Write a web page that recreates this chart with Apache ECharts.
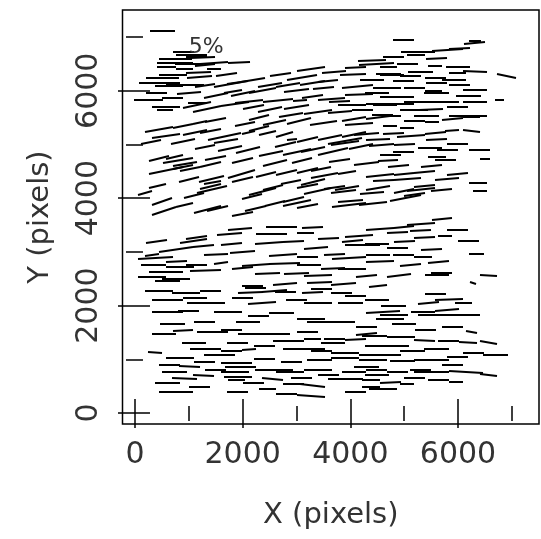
<!DOCTYPE html>
<html><head><meta charset="utf-8">
<script src="https://cdn.jsdelivr.net/npm/echarts@6/dist/echarts.min.js"></script>
<style>html,body{margin:0;padding:0;background:#fff}#c{width:541px;height:539px}</style>
</head><body><div id="c"></div>
<script>
// Polarization vectors: centre X, centre Y (pixels), polarization p (%), angle (deg from X axis)
const xs = [
4997,6312,6325,892,1053,1149,5254,5799,6024,5222,745,1470,1931,4484,5062,4099,4709,5575,6312,6902,
584,924,3266,520,1181,1470,4048,4709,4773,5126,5575,5992,540,892,3105,3586,4997,5928,636,1085,
2368,2849,3298,1726,4131,4677,5190,5543,6312,6024,251,700,1502,1822,2111,2656,3073,3650,4164,4869,
5286,5799,6312,6774,1162,572,553,1149,1341,1855,4036,4548,4644,4997,5415,3394,3811,4228,5190,5415,
6184,443,892,1213,2047,2592,3041,4067,4516,4837,5190,5511,5895,6248,4164,4741,5062,572,1117,1662,
2111,1694,2464,2785,3201,3618,4067,4516,5126,5575,5895,6248,3907,3907,2913,443,732,796,924,1758,
3682,4196,4580,4997,5479,5607,5767,6408,6505,2528,3009,4741,572,892,1021,1406,1419,1438,1983,2432,
2817,3201,3458,3522,3939,4548,4997,5383,4612,5062,5799,6376,187,411,507,1438,1406,2175,2368,2560,
2945,3394,3201,3875,3939,4516,4997,5318,5383,6408,540,924,1341,1534,2240,3009,3971,4420,5029,5190,
5703,5318,1951,2720,4548,4997,1149,1085,1758,2528,3169,4164,4869,5383,5767,4036,315,764,1277,2496,
2945,3362,4228,4869,4997,5350,6344,379,764,1598,2752,3201,3971,4516,347,828,1149,572,1309,2240,
2785,3234,3682,4036,4548,5126,5639,764,2464,3394,4901,5607,6569,315,2175,2240,2785,3426,3875,4516,
443,956,1406,604,1117,2143,2592,3458,3843,4099,6280,5831,5575,1502,2368,3394,4003,604,3266,3458,
4612,4805,5350,5799,4741,5511,6088,2720,1726,5447,540,892,1438,2143,2624,3682,4099,4292,3714,4452,
4933,5383,5831,6184,6248,6569,2849,3298,379,1309,1790,2111,1566,3009,3458,3907,4356,4741,5158,6280,
6697,828,3426,3907,4420,4965,5511,636,1021,1887,1951,732,1277,1855,1919,1887,2432,2881,3394,4067,
4484,4869,5511,6152,6569,924,2560,2945,3907,4388,4741,5062,5639,5960,3298,764,2464,2817,3266,4388,
4612,800,1300,700,1200,1700,2200,2700,3700,2000,2500,3000,3500,2300,1500,900,1300,2100,2000,2600,
3100,3300,2600,1000,4300,4900,5500,6000,6200,5600,4400,4300,4800,4000,2000,2000,3600,4500,5000,6000,
5700,2000,3000,4500,6100,1000,2300,3900,1800,3200,5400,2400,4500,6000,2400,2900,1500,3600,5200,1200,
4100,1900,
300,1000,600,1250,400,1000,1300,2500,3000,3500,2200,2900,3300,1900,3800,4400,4800,5600,6000,5300,
4500,5600,6000,5500,4600,300,1400,2300,2800,3300,1500,3800,2900,3700,2000,1100,3200,5000,5600,6000,
4700,5800,4400,5700,400,1500,2000,3000,3700,1800,3300,600,5500,4300,6200,5300,1200,2800,3300,4800,
700,1300,2100,4300,5000,5900,1100,1900,3300,4900,5600,1300,2700,3100,4300,5900,600,2200,4500,5300
];
const ys = [
6946,6882,6926,6722,6670,6626,6722,6760,6786,6658,6517,6517,6529,6497,6497,6433,6433,6465,6357,6273,
6433,6401,6401,6241,6337,6401,6305,6305,6285,6273,6241,6337,6145,6113,6241,6177,6177,6209,6081,6113,
6004,6113,6145,6113,6081,6049,6049,6004,6017,6113,5825,5857,5908,5979,5793,5825,5825,5850,5921,5889,
5787,5787,5793,5825,5780,5697,5633,5729,5665,5761,5729,5761,5729,5761,5793,5601,5601,5633,5633,5537,
5537,5281,5345,5409,5377,5409,5441,5473,5505,5537,5441,5409,5473,5505,5377,5345,5313,5153,5217,5146,
5217,5057,5217,5185,5089,5121,5185,5089,5153,5217,5262,5249,5057,5025,5089,4737,4769,4705,4641,4929,
4865,4961,4993,4865,4929,4769,4705,4897,4724,4833,4865,4801,4513,4577,4545,4621,4353,4289,4448,4448,
4481,4513,4545,4417,4481,4417,4448,4481,4321,4353,4353,4289,4096,4224,3936,4160,4224,4032,4128,4192,
3968,4128,4224,4128,4192,4192,4128,4160,4224,4128,3763,3872,3795,3808,3808,3904,3872,3904,4000,4064,
3616,3520,3424,3456,3424,3456,3264,3200,3328,3328,3360,3296,3360,3264,3296,3200,2944,3040,3104,3168,
3200,3072,3136,3072,2944,2912,2963,2880,2816,2784,2944,2912,2880,2944,2752,2720,2752,2624,2656,2752,
2784,2752,2688,2688,2816,2752,2816,2496,2592,2560,2560,2560,2560,2528,2368,2336,2400,2432,2400,2368,
2272,2240,2272,2112,2144,2240,2272,2304,2240,2176,2419,2112,2208,2048,2048,2048,2048,1887,1759,1695,
1887,1823,1887,1919,1759,1823,1823,1855,1887,2048,1471,1535,1503,1471,1471,1311,1375,1471,1375,1439,
1407,1343,1343,1311,1503,1311,1343,1375,1119,1183,1151,1183,1087,1183,1151,1119,1087,1087,1151,1119,
1087,1023,991,1023,991,959,991,895,863,927,863,767,703,767,671,607,799,767,799,767,
799,767,767,767,703,639,639,543,639,607,575,543,607,575,511,383,447,351,318,479,
447,6600,6480,6300,6250,6300,6200,6300,6350,5950,5650,5700,5400,5500,5450,5050,4950,4900,4700,4650,
4700,4300,3900,4350,4650,4600,4600,5000,5900,6150,6200,5200,5200,3950,3700,3000,3250,3150,3200,3400,
2600,2150,2100,2100,2050,1900,1800,1700,1550,1500,1550,1250,1250,1050,1000,950,800,700,650,480,
400,400,
6150,6500,6600,6620,5950,5950,6100,6100,6000,6050,5700,5550,5900,6150,5800,6560,6620,6600,6450,6350,
5950,5950,5700,5650,5550,5050,5250,5300,5000,4900,4750,4700,4300,4200,4350,4050,3850,5000,5100,4450,
4700,4900,4100,4150,3200,2950,2700,2600,2950,3150,3450,2450,3050,2550,3200,3400,2050,2250,2250,2000,
1650,1700,1700,1600,1650,1600,1300,1300,1200,1250,1200,950,800,650,850,900,560,550,700,800
];
const ps = [
4.2,4.2,2.4,4.2,6.2,4.2,6.9,6.2,4.2,3.5,7.3,5.6,4.5,6.9,4.2,4.2,3.5,2.8,4.9,4.0,
3.8,3.5,5.6,6.6,4.9,2.8,5.2,4.9,4.9,4.2,4.2,3.5,6.2,6.9,6.2,4.2,4.2,4.9,5.6,4.2,
5.6,4.9,4.9,5.6,6.2,5.6,4.2,3.5,4.9,4.2,5.6,4.2,4.9,3.5,5.6,6.2,2.8,5.6,5.6,6.9,
6.2,4.9,4.9,1.8,3.8,5.6,3.1,5.6,5.6,5.6,5.6,5.6,4.9,4.2,4.9,5.6,4.9,4.2,5.6,4.9,
7.6,5.6,4.2,2.8,4.2,4.9,4.9,4.9,4.9,2.1,4.2,2.8,4.2,3.5,5.6,2.8,2.8,5.6,4.9,6.9,
2.8,4.9,3.5,3.5,4.2,4.9,4.9,4.9,5.6,4.2,2.8,3.5,6.9,5.6,2.1,4.2,3.5,6.2,4.9,4.9,
6.2,4.9,4.9,4.2,4.9,3.5,4.2,4.2,2.1,4.9,5.6,4.2,6.9,4.2,4.2,4.2,5.2,3.5,5.6,4.2,
4.2,4.2,4.2,5.6,3.5,5.6,4.2,4.2,4.2,5.6,4.9,3.5,2.8,3.5,4.2,6.2,4.2,4.2,5.6,4.2,
4.2,5.6,4.2,4.9,4.9,4.9,4.2,5.6,4.2,2.8,5.2,3.5,5.6,4.2,4.2,5.6,6.9,5.6,6.2,4.2,
4.2,5.6,4.9,6.2,5.6,4.2,4.2,5.6,4.9,6.2,3.5,5.6,4.2,4.2,2.8,4.2,2.8,6.9,4.2,5.6,
4.2,4.9,6.9,4.2,4.2,3.5,2.8,6.9,4.2,2.8,5.6,4.2,6.9,4.9,4.9,5.6,4.2,6.9,6.2,5.6,
6.2,4.9,4.9,5.6,5.6,4.2,4.2,5.6,4.9,5.6,4.9,4.9,3.5,5.6,4.2,4.2,4.9,4.9,4.9,3.5,
5.6,5.6,4.2,6.2,4.9,4.9,4.9,4.2,4.2,4.2,1.4,5.6,4.2,3.5,5.6,5.6,4.9,6.2,5.6,5.6,
6.9,5.6,4.9,4.9,5.6,5.6,6.9,4.9,5.6,4.2,4.9,4.2,6.2,4.9,5.6,4.9,4.2,4.2,4.2,4.9,
5.6,4.2,4.2,3.5,2.1,3.5,6.2,3.5,2.8,6.2,4.2,2.8,6.2,5.6,4.2,5.6,4.2,4.2,4.9,4.2,
4.9,5.6,4.9,5.6,5.6,4.9,6.9,4.2,4.2,6.2,6.2,4.9,4.2,5.6,5.6,3.5,4.2,5.6,5.6,4.9,
4.2,4.2,6.9,6.9,3.5,4.9,4.2,4.2,6.9,3.5,4.2,2.8,4.2,2.8,4.9,6.9,3.5,4.2,5.6,3.5,
5.6,5.6,4.2,5.6,4.9,4.2,4.9,4.2,4.9,4.9,4.9,4.9,5.6,4.2,4.2,4.9,4.2,4.9,4.2,4.9,
4.2,4.9,4.2,4.2,4.9,4.2,4.2,4.2,4.9,4.2,4.9,4.9,4.2,4.9,4.2,4.9,4.2,4.9,4.2,4.2,
4.2,4.2,4.2,4.9,3.5,4.2,4.2,4.2,4.2,4.2,4.2,4.2,4.9,4.2,4.2,4.2,4.2,4.2,4.2,4.2,
4.2,4.2,
4.9,5.6,3.5,4.9,4.2,4.9,4.2,4.9,4.9,4.2,4.2,4.9,4.2,4.2,4.2,5.6,4.2,4.2,4.9,4.9,
4.9,4.9,4.2,4.9,4.2,4.2,4.2,4.2,4.2,4.9,4.2,4.2,4.2,4.2,4.2,4.2,4.2,4.2,4.2,4.2,
4.2,4.2,4.9,4.2,4.2,4.9,4.2,4.9,4.2,4.2,4.2,4.9,4.2,4.2,4.2,4.2,4.9,4.2,4.2,4.9,
4.9,4.2,4.9,4.2,4.9,4.2,4.9,4.2,4.9,4.2,4.9,4.2,4.9,4.2,4.9,4.2,4.9,4.2,4.9,4.2
];
const angs = [
0,6,0,0,0,0,0,5,3,0,0,4,4,2,0,2,0,0,-4,-12,
0,0,9,0,4,0,3,0,0,0,0,0,0,0,9,5,0,0,0,0,
12,10,10,9,6,0,0,0,0,0,0,0,12,10,6,6,4,5,2,0,
0,0,0,0,0,0,0,12,12,8,0,0,0,0,0,8,5,0,0,0,
0,10,12,12,12,13,13,10,6,0,0,0,3,0,4,0,0,8,12,12,
12,10,12,14,13,12,10,3,3,5,5,-5,10,9,8,12,14,10,10,12,
12,10,6,0,0,0,0,0,0,13,13,0,12,12,10,14,14,12,15,14,
13,13,12,11,8,7,5,5,3,5,5,0,15,15,18,14,14,15,14,13,
14,13,13,8,8,8,10,8,5,0,17,15,15,12,13,13,8,7,10,8,
5,5,3,0,5,5,8,8,5,0,0,5,5,3,0,5,8,8,5,3,
3,3,0,0,0,0,0,3,3,8,3,0,3,0,0,0,0,0,3,3,
3,0,3,0,3,5,5,0,3,3,5,0,-5,0,0,0,3,3,3,5,
0,0,0,0,0,3,3,0,0,0,-20,3,0,0,3,0,0,0,0,0,
3,0,0,3,0,0,0,0,0,3,0,3,0,0,0,0,3,3,0,0,
0,-3,0,-5,-10,-8,0,0,-5,0,0,5,0,0,0,0,0,0,0,0,
0,0,0,0,0,0,0,0,-3,0,0,0,-3,0,0,0,0,0,0,0,
0,0,0,-3,-5,-3,-5,0,0,0,3,0,0,0,-5,0,0,0,-3,0,
0,0,5,0,5,8,10,8,5,10,12,10,10,12,10,12,12,14,14,14,
12,12,14,14,8,5,5,0,0,0,0,5,3,5,10,5,3,0,3,0,
0,0,0,0,0,0,0,0,0,0,0,0,0,0,0,0,0,0,0,0,
0,0,
0,0,0,3,0,5,8,10,8,5,10,10,8,10,5,3,0,3,0,0,
0,0,0,3,0,12,12,12,13,12,12,10,13,10,14,15,10,3,3,3,
5,0,5,5,8,3,3,3,3,5,3,0,3,3,0,3,0,0,3,0,
0,0,0,0,0,0,0,0,0,0,0,0,0,0,0,0,0,0,0,0
];
// 5% reference vector and its label
const refX = 508, refY = 7106, refP = 5, refAng = 0;
const refLabel = '5%', refLabelX = 1000, refLabelY = 6800;
// Axis ticks
const majorTicks = [0, 2000, 4000, 6000];
const minorTicks = [1000, 3000, 5000, 7000];
const xMin = -232, xMax = 7505, yMin = -205, yMax = 7503;

const PCT = 92.9; // data units per 1 % of polarization (from 5% reference bar)
const FONT = '"DejaVu Sans",sans-serif';
const TXT = '#333';

const vecData = xs.map((x, i) => [x, ys[i], ps[i], angs[i]]);

function renderVec(params, api) {
  const x = api.value(0), y = api.value(1), p = api.value(2), a = api.value(3) * Math.PI / 180;
  const h = p * PCT / 2, dx = h * Math.cos(a), dy = h * Math.sin(a);
  const s = api.coord([x - dx, y - dy]), e = api.coord([x + dx, y + dy]);
  return { type: 'line',
           shape: { x1: Math.round(s[0]), y1: Math.round(s[1]), x2: Math.round(e[0]), y2: Math.round(e[1]) },
           style: { stroke: '#000', lineWidth: 2 } };
}

function tickAxis(pos, vals, len, labels, extra) {
  const isX = pos === 'bottom' || pos === 'top';
  return Object.assign({
    type: 'value', position: pos,
    min: isX ? xMin : yMin, max: isX ? xMax : yMax,
    axisLine: { show: false }, splitLine: { show: false },
    axisTick: { show: true, inside: true, length: len, customValues: vals,
                lineStyle: { color: '#000', width: 1.5 } },
    axisLabel: labels ? Object.assign({ customValues: vals, color: TXT,
                fontFamily: FONT, fontSize: 30, formatter: v => String(v) }, labels) : { show: false }
  }, extra || {});
}

const chart = echarts.init(document.getElementById('c'), null, { renderer: 'canvas' });
chart.setOption({
  animation: false,
  backgroundColor: '#fff',
  grid: { left: 122.5, top: 10, width: 416.5, height: 414, show: true,
          borderColor: '#000', borderWidth: 1.5, backgroundColor: 'transparent' },
  xAxis: [
    tickAxis('bottom', majorTicks, 14, { margin: 16 },
      { name: 'X (pixels)', nameLocation: 'middle', nameGap: 77,
        nameTextStyle: { color: TXT, fontFamily: FONT, fontSize: 29 } }),
    tickAxis('bottom', minorTicks, 7, null),
    tickAxis('top', majorTicks, 15, null),
    tickAxis('top', minorTicks, 8, null)
  ],
  yAxis: [
    tickAxis('left', majorTicks, 15, { rotate: 90, margin: 18 },
      { name: 'Y (pixels)', nameLocation: 'middle', nameGap: 68, nameRotate: 90,
        nameTextStyle: { color: TXT, fontFamily: FONT, fontSize: 29 } }),
    tickAxis('left', minorTicks, 8, null),
    tickAxis('right', majorTicks, 17, null),
    tickAxis('right', minorTicks, 9, null)
  ],
  series: [
    { type: 'custom', xAxisIndex: 0, yAxisIndex: 0, renderItem: renderVec,
      data: vecData, silent: true, clip: true },
    { type: 'custom', xAxisIndex: 0, yAxisIndex: 0, renderItem: renderVec,
      data: [[refX, refY, refP, refAng]], silent: true },
    { type: 'custom', xAxisIndex: 0, yAxisIndex: 0, silent: true,
      data: [[refLabelX, refLabelY]],
      renderItem: function (params, api) {
        const c = api.coord([api.value(0), api.value(1)]);
        return { type: 'text', x: c[0], y: c[1],
          style: { text: refLabel, fill: TXT, fontFamily: FONT, fontSize: 22,
                   align: 'left', verticalAlign: 'middle' } };
      } }
  ]
});
</script>
</body></html>
